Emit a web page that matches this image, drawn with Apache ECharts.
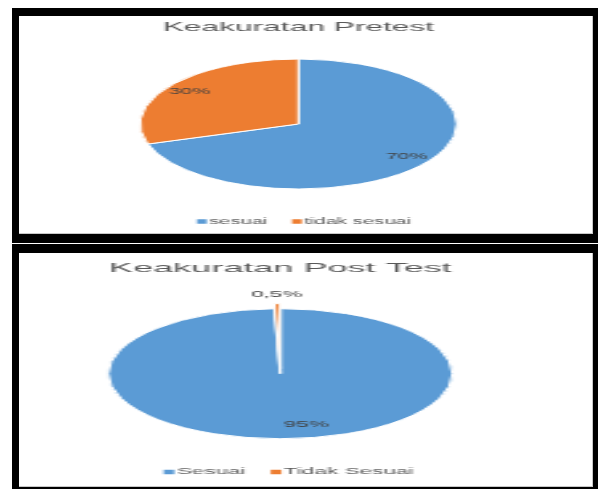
<!DOCTYPE html>
<html><head><meta charset="utf-8">
<script src="https://cdn.jsdelivr.net/npm/echarts@6/dist/echarts.min.js"></script>
<style>
html,body{margin:0;padding:0;background:#fff;width:598px;height:489px;overflow:hidden}
#frame{position:absolute;left:0;top:0;width:598px;height:489px}
#pre{position:absolute;left:0;top:0;transform-origin:0 0}
#post{position:absolute;left:0;top:244px;transform-origin:0 0}
</style></head><body>
<div id="frame"></div><div id="pre"></div><div id="post"></div>
<script>
// ---- data ----
const preTitle = 'Keakuratan Pretest';
const preCategories = ['sesuai', 'tidak sesuai'];
const preValues = [70, 30];
const preLabels = ['70%', '30%'];

const postTitle = 'Keakuratan Post Test';
const postCategories = ['Sesuai', 'Tidak Sesuai'];
const postValues = [95, 0.5];
const postLabels = ['95%', '0,5%'];

const colors = ['#5B9BD5', '#ED7D31'];

// ---- frame (black borders) ----
const frame = echarts.init(document.getElementById('frame'), null, {width: 598, height: 489});
frame.setOption({
  animation: false,
  graphic: [
    {type: 'rect', shape: {x: 12, y: 8, width: 600, height: 235}, style: {fill: '#000'}},
    {type: 'rect', shape: {x: 19, y: 16, width: 574, height: 218}, style: {fill: '#fff'}},
    {type: 'rect', shape: {x: 12, y: 244, width: 600, height: 260}, style: {fill: '#000'}},
    {type: 'rect', shape: {x: 19, y: 253, width: 574, height: 234}, style: {fill: '#fff'}},
    {type: 'line', shape: {x1: 592.5, y1: 16, x2: 592.5, y2: 234}, style: {stroke: '#c8c8c8', lineWidth: 1}},
    {type: 'line', shape: {x1: 19, y1: 233.5, x2: 593, y2: 233.5}, style: {stroke: '#c8c8c8', lineWidth: 1}},
    {type: 'line', shape: {x1: 592.5, y1: 253, x2: 592.5, y2: 487}, style: {stroke: '#c8c8c8', lineWidth: 1}},
    {type: 'line', shape: {x1: 19, y1: 486.5, x2: 593, y2: 486.5}, style: {stroke: '#c8c8c8', lineWidth: 1}}
  ]
});

function buildPie(elId, sx, h, cfg) {
  const w = 598 / sx;
  const el = document.getElementById(elId);
  el.style.width = w + 'px';
  el.style.height = h + 'px';
  el.style.transform = 'scaleX(' + sx + ')';
  const chart = echarts.init(el, null, {width: w, height: h});
  const data = cfg.categories.map((n, i) => ({name: n, value: cfg.values[i], itemStyle: {color: colors[i]}, selected: !!(cfg.selected && cfg.selected[i])}));
  const series = [{
    type: 'pie', center: cfg.center, radius: cfg.r, startAngle: 90, clockwise: true,
    selectedMode: cfg.selected ? 'multiple' : false, selectedOffset: cfg.selectedOffset || 0,
    label: {show: false}, labelLine: {show: false}, silent: true,
    itemStyle: {borderColor: '#fff', borderWidth: 1},
    emphasis: {disabled: true},
    data: data
  }];
  cfg.rings.forEach(ring => {
    series.push({
      type: 'pie', center: cfg.center, radius: ring.radius, startAngle: 90, clockwise: true,
      silent: true, legendHoverLink: false, emphasis: {disabled: true},
      labelLine: {show: false},
      labelLayout: ring.layout || {},
      label: {show: true, position: 'inside', fontSize: cfg.labelSize, color: '#404040', fontFamily: 'Liberation Sans',
        formatter: p => ring.show.includes(p.dataIndex) ? cfg.labels[p.dataIndex] : ''},
      itemStyle: {color: 'rgba(0,0,0,0)', borderWidth: 0},
      data: cfg.categories.map((n, i) => ({name: n, value: cfg.values[i]}))
    });
  });
  chart.setOption({
    animation: false,
    color: colors,
    title: {text: cfg.title, left: cfg.center[0], textAlign: 'center', top: cfg.titleTop, padding: 0,
      textStyle: {fontSize: cfg.titleSize, fontWeight: 'normal', color: '#595959', fontFamily: 'Liberation Sans'}},
    legend: {show: true, left: cfg.legendLeft, top: cfg.legendTop, padding: 0, itemGap: cfg.legendGap,
      itemWidth: 4, itemHeight: 4.5, icon: 'rect', selectedMode: false,
      itemStyle: {borderWidth: 0},
      textStyle: {fontSize: cfg.legendSize, color: '#595959', fontFamily: 'Liberation Sans', padding: [0, 0, 0, -4]},
      data: cfg.categories},
    series: series
  });
  return chart;
}

buildPie('pre', 2.44, 243, {
  title: preTitle, categories: preCategories, values: preValues, labels: preLabels,
  center: [122.3, 124], r: 65, titleTop: 21, titleSize: 13,
  legendLeft: 80.7, legendTop: 217.5, legendGap: 10, legendSize: 8.3, labelSize: 8.5,
  rings: [{radius: [40, 64], show: [0, 1]}]
});

buildPie('post', 2.64, 245, {
  title: postTitle, categories: postCategories, values: postValues, labels: postLabels,
  center: [105.7, 129.7], r: 65, titleTop: 17.5, titleSize: 13.6,
  legendLeft: 61.7, legendTop: 223.5, legendGap: 9.4, legendSize: 8.5, labelSize: 8.5,
  selected: [false, true], selectedOffset: 5,
  rings: [{radius: [38, 58], show: [0], layout: {dx: 9}}, {radius: [70, 82], show: [1]}]
});
</script>
</body></html>
